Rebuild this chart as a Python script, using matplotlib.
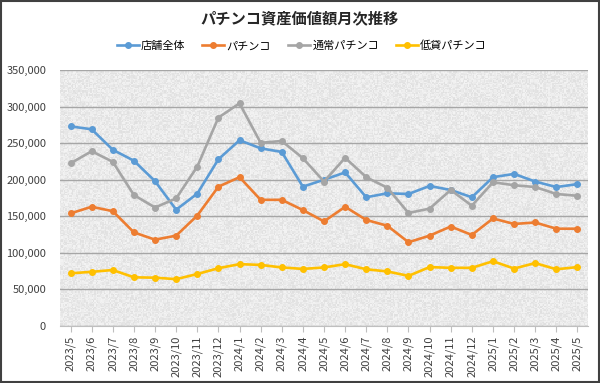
import numpy as np
import matplotlib
matplotlib.use("Agg")
import matplotlib.pyplot as plt
from matplotlib.ticker import FuncFormatter
from matplotlib.patches import Rectangle

plt.rcParams['font.family'] = ['Noto Sans CJK JP', 'DejaVu Sans']

months = ["2023/5", "2023/6", "2023/7", "2023/8", "2023/9", "2023/10", "2023/11", "2023/12",
          "2024/1", "2024/2", "2024/3", "2024/4", "2024/5", "2024/6", "2024/7", "2024/8",
          "2024/9", "2024/10", "2024/11", "2024/12", "2025/1", "2025/2", "2025/3", "2025/4", "2025/5"]

store_total = [273000, 269000, 241000, 226000, 198000, 159000, 181000, 228000,
               254000, 243000, 238000, 190500, 200000, 210000, 176000, 181500,
               180500, 191500, 186000, 176000, 203500, 208000, 197500, 190000, 194000]
pachinko = [154000, 163000, 157000, 128000, 118000, 123500, 151000, 190500,
            203500, 172500, 172500, 158500, 143000, 163000, 145000, 137000,
            114500, 123500, 136000, 124500, 147000, 139500, 141500, 133000, 133000]
normal = [222500, 239000, 224500, 179000, 162000, 174500, 218000, 285000,
          304500, 250500, 253000, 229500, 197500, 230000, 203500, 189000,
          154500, 160500, 186000, 164500, 196500, 192500, 190000, 180500, 178000]
low_rate = [72000, 74000, 76500, 66500, 66000, 64000, 71000, 79000,
            84500, 83500, 80000, 78000, 80000, 84500, 77500, 74500,
            68500, 80500, 79500, 79500, 88500, 78500, 86000, 77500, 80500]

series = [("店舗全体", store_total, "#5b9bd5"),
          ("パチンコ", pachinko, "#ed7d31"),
          ("通常パチンコ", normal, "#a5a5a5"),
          ("低貸パチンコ", low_rate, "#ffc000")]

fig = plt.figure(figsize=(6.0, 3.83), dpi=100)
ax = fig.add_axes([0.1, 0.149, 0.88, 0.668])

# textured light-gray plot background
rng = np.random.default_rng(3)
tex = 0.875 + 0.08 * rng.random((200, 400))
ax.imshow(tex, cmap='gray', vmin=0, vmax=1, extent=(-0.5, 24.5, 0, 350000),
          aspect='auto', zorder=0, interpolation='nearest')

x = np.arange(len(months))
for name, vals, col in series:
    ax.plot(x, vals, color=col, lw=1.9, marker='o', ms=4, label=name, zorder=3)

ax.set_xlim(-0.5, 24.5)
ax.set_ylim(0, 350000)
ax.set_yticks(np.arange(0, 350001, 50000))
ax.yaxis.set_major_formatter(FuncFormatter(lambda v, p: f"{int(v):,}"))
ax.set_xticks(x)
ax.set_xticklabels(months, rotation=90, fontsize=8, color='#404040')
ax.tick_params(axis='y', length=0, labelsize=8, labelcolor='#404040', pad=10)
ax.tick_params(axis='x', length=4, color='#bfbfbf', pad=3)
ax.grid(axis='y', color='#a6a6a6', lw=1, zorder=1)
for s in ['top', 'right', 'left']:
    ax.spines[s].set_visible(False)
ax.spines['bottom'].set_color('#bfbfbf')

fig.text(0.5, 0.953, "パチンコ資産価値額月次推移", ha='center', va='center',
         fontsize=11, fontweight='bold', color='#262626')
fig.legend(loc='center', bbox_to_anchor=(0.503, 0.88), ncol=4, frameon=False,
           fontsize=8, handlelength=2.0, columnspacing=1.5, handletextpad=0.2)

fig.add_artist(Rectangle((0.002, 0.003), 0.996, 0.994, transform=fig.transFigure,
                         fill=False, edgecolor='#404040', lw=1.5))
fig.savefig("out.png", dpi=100)
